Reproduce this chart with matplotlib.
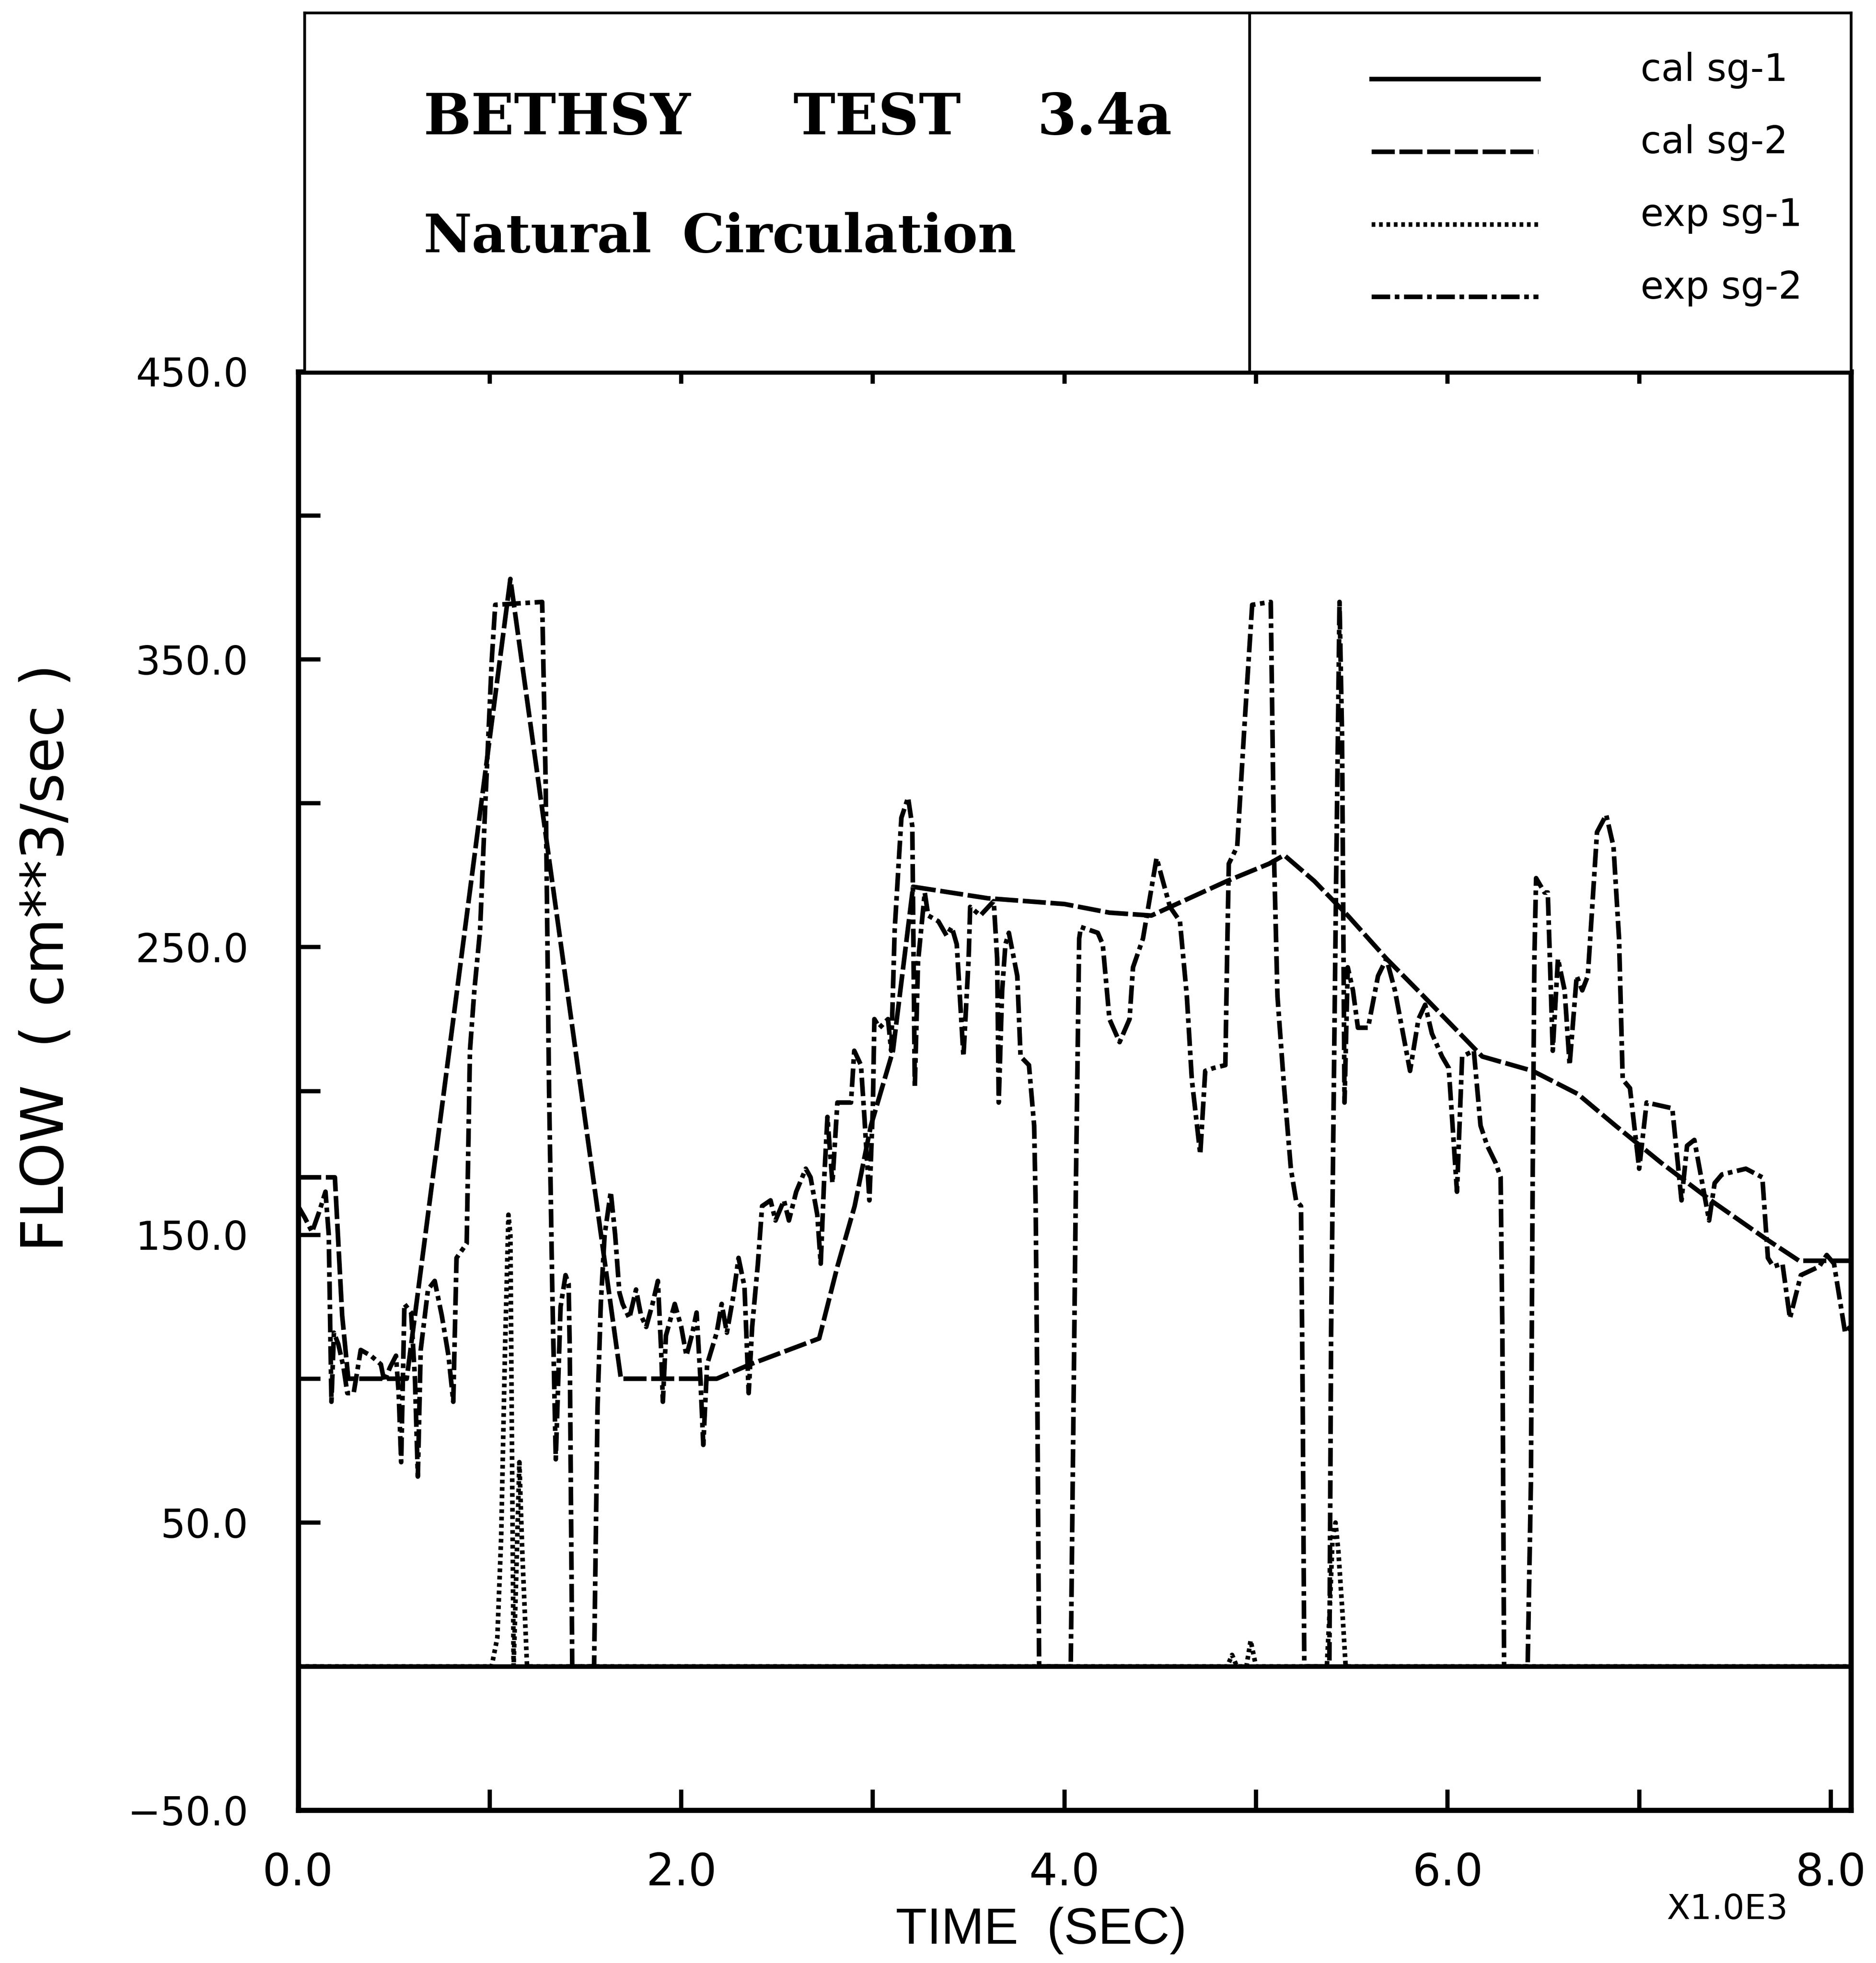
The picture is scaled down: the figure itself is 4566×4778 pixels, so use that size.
import matplotlib
matplotlib.use("Agg")
import matplotlib.pyplot as plt
from matplotlib.ticker import FixedLocator, FuncFormatter

# ---------------------------------------------------------------- data
# time in seconds, flow in cm**3/sec

# calculated, steam generator 1
cal_sg1_t = [0, 8105]
cal_sg1_v = [0, 0]

# calculated, steam generator 2
cal_sg2_t = [0, 192, 230, 262, 567, 1108, 1685, 2185, 2360, 2640, 2720, 2815,
             2905, 2990, 3105, 3210, 3600, 4000, 4235, 4454, 4849, 5068, 5147,
             5304, 5479, 5681, 5874, 6137, 6181, 6444, 6679, 6876, 7116, 7374,
             7653, 7835, 8105]
cal_sg2_v = [170, 170, 122, 100, 100, 378, 100, 100, 105, 112, 114, 139,
             160, 188, 214, 271, 267, 265, 262, 261, 273, 279, 282,
             273, 261, 246, 233, 215, 212, 207, 199, 188, 175, 162,
             149, 141, 141]

# measured, steam generator 1
exp_sg1_t = [0, 1010, 1040, 1060, 1080, 1098, 1108, 1125, 1140, 1155, 1170, 1195,
             4850, 4875, 4900, 4950, 4972, 5000, 5370, 5385, 5400, 5415, 5430,
             5450, 5468, 8105]
exp_sg1_v = [0, 0, 10, 45, 110, 157, 150, 0, 35, 71, 40, 0,
             0, 4, 0, 0, 9, 0, 0, 20, 45, 50, 40,
             20, 0, 0]

# measured, steam generator 2
exp_sg2_t = [0, 35, 73, 110, 143, 160, 174, 187, 210, 237, 257, 290, 327, 380,
             432, 450, 480, 511, 525, 538, 555, 590, 610, 625, 640, 678, 713,
             750, 785, 810, 827, 880, 897, 920, 950, 976, 1011, 1029, 1274,
             1292, 1310, 1327, 1345, 1370, 1396, 1412, 1418, 1431, 1545, 1563,
             1580, 1600, 1632, 1655, 1677, 1694, 1729, 1764, 1790, 1817, 1850,
             1878, 1895, 1904, 1920, 1966, 2000, 2027, 2055, 2080, 2100, 2115,
             2135, 2185, 2211, 2238, 2270, 2299, 2330, 2352, 2370, 2400, 2422,
             2466, 2492, 2536, 2562, 2600, 2650, 2675, 2710, 2728, 2745, 2763,
             2789, 2815, 2886, 2903, 2938, 2956, 2982, 3000, 3008, 3035, 3079,
             3096, 3114, 3149, 3184, 3206, 3219, 3236, 3271, 3289, 3342, 3385,
             3412, 3438, 3473, 3500, 3508, 3561, 3631, 3649, 3657, 3675, 3692,
             3710, 3754, 3771, 3815, 3842, 3850, 3859, 3868, 4033, 4060, 4077,
             4086, 4174, 4200, 4235, 4288, 4340, 4358, 4410, 4481, 4551, 4603,
             4639, 4665, 4709, 4735, 4779, 4840, 4849, 4858, 4902, 4937, 4954,
             4980, 5077, 5086, 5095, 5112, 5147, 5182, 5209, 5235, 5244, 5252,
             5383, 5392, 5418, 5436, 5449, 5462, 5479, 5506, 5532, 5585, 5637,
             5681, 5725, 5804, 5848, 5883, 5918, 5971, 6006, 6049, 6076, 6137,
             6172, 6207, 6251, 6277, 6286, 6295, 6418, 6435, 6444, 6453, 6462,
             6506, 6523, 6549, 6576, 6611, 6637, 6674, 6703, 6732, 6780, 6828,
             6866, 6895, 6914, 6952, 7000, 7039, 7173, 7221, 7250, 7288, 7365,
             7394, 7432, 7557, 7643, 7672, 7700, 7748, 7787, 7844, 7940, 7979,
             8017, 8075, 8100]
exp_sg2_v = [160, 156, 151, 158, 165, 150, 92, 116, 112, 104, 95, 95, 110, 108,
             105, 99, 104, 108, 95, 71, 126, 123, 100, 66, 110, 131, 134,
             122, 108, 92, 142, 147, 214, 235, 256, 298, 350, 369, 370,
             308, 200, 130, 72, 125, 136, 133, 110, 0, 0, 90,
             126, 150, 165, 150, 130, 126, 121, 131, 122, 118, 126,
             134, 110, 92, 115, 126, 118, 108, 115, 123, 100, 77,
             105, 116, 126, 116, 128, 142, 132, 95, 118, 140, 160,
             162, 155, 162, 155, 165, 173, 170, 157, 140, 168, 191,
             168, 196, 196, 214, 209, 191, 162, 194, 225, 222, 225,
             214, 256, 295, 302, 292, 201, 245, 269, 261, 259, 254,
             257, 251, 212, 246, 264, 261, 266, 246, 196, 235, 251,
             255, 240, 212, 209, 188, 160, 90, 0, 0, 168, 253,
             257, 255, 251, 225, 217, 225, 243, 253, 281, 264, 259,
             233, 204, 178, 207, 208, 209, 246, 279, 285, 324, 342,
             369, 370, 324, 279, 233, 201, 173, 162, 160, 90, 0,
             0, 116, 272, 370, 324, 196, 243, 235, 222, 222, 240,
             246, 235, 207, 225, 230, 220, 212, 208, 165, 212, 214,
             188, 181, 175, 170, 116, 0, 0, 64, 168, 246, 274,
             269, 269, 214, 246, 235, 209, 240, 235, 240, 290, 296,
             285, 253, 204, 201, 173, 196, 194, 162, 181, 183, 155,
             168, 171, 173, 170, 142, 139, 140, 121, 136, 139, 143,
             140, 116, 118]

series_labels = ["cal sg-1", "cal sg-2", "exp sg-1", "exp sg-2"]
x_major = [0, 2000, 4000, 6000, 8000]
x_minor = [1000, 3000, 5000, 7000]
y_ticks = [-50, 0, 50, 100, 150, 200, 250, 300, 350, 400, 450]
y_labels_at = [-50, 50, 150, 250, 350, 450]

# ---------------------------------------------------------------- styles
LW = 2.7
styles = [
    dict(linestyle="-"),
    dict(linestyle=(0, (5, 1))),
    dict(linestyle=(0, (0.8, 0.8))),
    dict(linestyle=(0, (4, 1, 1, 1))),
]
narrow = ["Liberation Sans Narrow", "DejaVu Sans"]

fig = plt.figure(figsize=(4566 / 300, 4778 / 300), dpi=300)
fig.patch.set_facecolor("white")

# ---------------------------------------------------------------- main plot
ax = fig.add_axes([0.1589, 0.0778, 0.9866 - 0.1589, 0.8106 - 0.0778])
series = [(cal_sg1_t, cal_sg1_v), (cal_sg2_t, cal_sg2_v),
          (exp_sg1_t, exp_sg1_v), (exp_sg2_t, exp_sg2_v)]
for (t, v), st, lab in zip(series, styles, series_labels):
    ax.plot(t, v, color="black", lw=LW, label=lab,
            solid_joinstyle="round", dash_capstyle="butt", **st)

ax.set_xlim(0, 8105)
ax.set_ylim(-50, 450)
for s in ax.spines.values():
    s.set_linewidth(3)
    s.set_color("black")

ax.xaxis.set_major_locator(FixedLocator(x_major))
ax.xaxis.set_minor_locator(FixedLocator(x_minor))
ax.xaxis.set_major_formatter(FuncFormatter(lambda x, p: f"{x / 1000:.1f}"))
ax.tick_params(axis="x", which="both", direction="in", length=12, width=2.5,
               bottom=True, top=False, pad=24)
ax.tick_params(axis="x", which="major", labelsize=26)
for lbl in ax.get_xticklabels():
    lbl.set_family(narrow)

ax.yaxis.set_major_locator(FixedLocator(y_ticks))
ax.yaxis.set_major_formatter(FuncFormatter(
    lambda y, p: (f"{y:.1f}".replace("-", "\u2212")) if y in y_labels_at else ""))
ax.tick_params(axis="y", which="both", direction="in", length=13, width=2.5,
               left=True, right=False, pad=29, labelsize=23)
for lbl in ax.get_yticklabels():
    lbl.set_family("DejaVu Sans")

top = ax.secondary_xaxis("top")
top.set_xticks(x_major[1:-1] + x_minor)
top.tick_params(direction="in", length=7, width=2.5, labeltop=False)
top.spines["top"].set_linewidth(3)

fig.text(0.025, 0.512, "FLOW  ( cm**3/sec )", rotation=90, ha="center",
         va="center", fontsize=34, family="DejaVu Sans")
fig.text(0.555, 0.0165, "TIME  (SEC)", ha="center", va="center",
         fontsize=30, family=["Liberation Sans", "DejaVu Sans"])
fig.text(0.953, 0.0274, "X1.0E3", ha="right", va="center",
         fontsize=20, family=narrow)

# ---------------------------------------------------------------- header box
hd = fig.add_axes([0.1622, 0.8106, 0.9866 - 0.1622, 0.9936 - 0.8106])
hd.set_xlim(0, 1)
hd.set_ylim(0, 1)
hd.set_xticks([])
hd.set_yticks([])
for s in hd.spines.values():
    s.set_linewidth(1.6)
hd.axvline(0.611, color="black", lw=1.6)

serif = dict(family="DejaVu Serif", weight="bold", fontsize=33,
             va="center", ha="left")
hd.text(0.077, 0.704, "BETHSY", **serif)
hd.text(0.316, 0.704, "TEST", **serif)
hd.text(0.474, 0.704, "3.4a", **serif)
serif2 = dict(serif, fontsize=31)
hd.text(0.077, 0.373, "Natural", **serif2)
hd.text(0.2445, 0.373, "Circulation", **serif2)

legend_y = [0.815, 0.613, 0.411, 0.209]
for yy, st, lab in zip(legend_y, styles, series_labels):
    hd.plot([0.690, 0.798], [yy, yy], color="black", lw=LW, **st)
    hd.text(0.864, yy - 0.005, lab, ha="left", va="baseline",
            fontsize=22, family=narrow)

fig.savefig("out.png", dpi=300)
